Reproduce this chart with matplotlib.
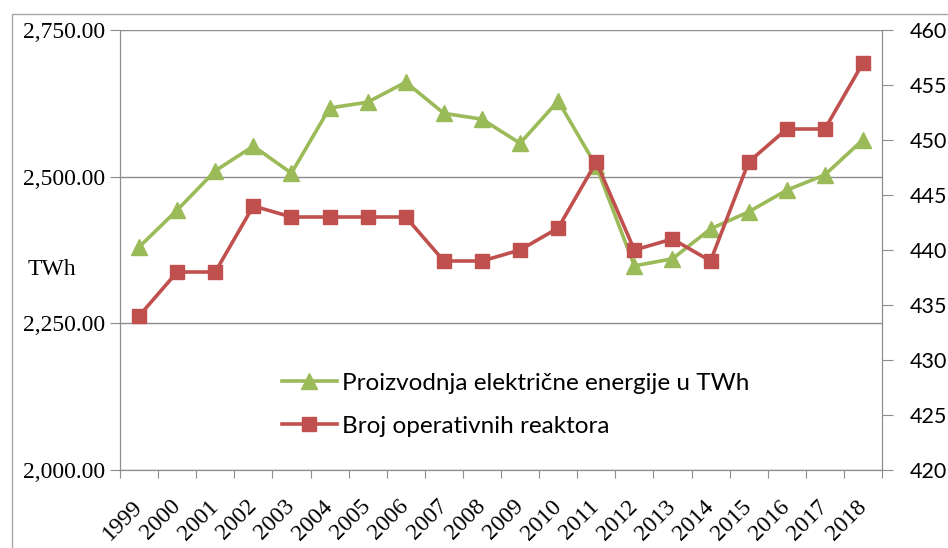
import matplotlib.pyplot as plt
from matplotlib.patches import Rectangle
from matplotlib.ticker import FuncFormatter, MultipleLocator, FixedLocator

# podaci
godine = [str(g) for g in range(1999, 2019)]
proizvodnja_twh = [2380, 2443, 2510, 2552, 2506, 2617, 2627, 2661, 2608, 2598,
                   2557, 2629, 2518, 2348, 2360, 2411, 2440, 2477, 2503, 2563]
broj_reaktora = [434, 438, 438, 444, 443, 443, 443, 443, 439, 439,
                 440, 442, 448, 440, 441, 439, 448, 451, 451, 457]

zelena = '#9BBB59'
crvena = '#C0504D'
siva = '#8c8c8c'

fig = plt.figure(figsize=(9.48, 5.48), dpi=100)
ax = fig.add_axes([120/948, 1 - 470/548, 762/948, 440/548])
ax2 = ax.twinx()

x = list(range(len(godine)))
l1, = ax.plot(x, proizvodnja_twh, color=zelena, lw=2.6, marker='^', ms=11,
              label='Proizvodnja električne energije u TWh')
l2, = ax2.plot(x, broj_reaktora, color=crvena, lw=2.6, marker='s', ms=10,
               label='Broj operativnih reaktora')

ax.set_xlim(-0.5, len(godine) - 0.5)
ax.set_ylim(2000, 2750)
ax2.set_ylim(420, 460)

ax.yaxis.set_major_locator(MultipleLocator(250))
ax.yaxis.set_major_formatter(FuncFormatter(lambda v, p: f'{v:,.2f}'))
ax2.yaxis.set_major_locator(MultipleLocator(5))

ax.grid(axis='y', color=siva, lw=1)
ax.set_axisbelow(True)

# kategorije izmedju crtica
ax.xaxis.set_major_locator(FixedLocator([i - 0.5 for i in range(len(godine) + 1)]))
ax.xaxis.set_minor_locator(FixedLocator(x))
ax.set_xticklabels([])
ax.set_xticklabels(godine, minor=True, rotation=45, ha='right', va='center',
                   rotation_mode='anchor', family='Liberation Serif', fontsize=17)
ax.tick_params(axis='x', which='minor', length=0, pad=24)
ax.tick_params(axis='x', which='major', length=6, color=siva)
ax.tick_params(axis='y', length=7, color=siva, labelsize=17)
for t in ax.get_yticklabels():
    t.set_family('Liberation Serif')
ax2.tick_params(axis='y', length=8, color=siva, labelsize=15.5, pad=12)
for t in ax2.get_yticklabels():
    t.set_family('Lato')

for a in (ax, ax2):
    a.spines['top'].set_visible(False)
    for s in ('left', 'right', 'bottom'):
        a.spines[s].set_color(siva)

ax.text(-0.09, 0.455, 'TWh', transform=ax.transAxes, ha='center', va='center',
        family='Liberation Serif', fontsize=17)

ax2.legend(handles=[l1, l2], loc='center left', bbox_to_anchor=(0.196, 0.148),
           frameon=False, borderpad=0, handlelength=2.3, handletextpad=0.2,
           labelspacing=0.9, prop={'family': 'Lato', 'size': 17.5})

# okvir grafikona
fig.add_artist(Rectangle((12/948, -0.1), 1.0, 1 - 14/548 + 0.1,
                         transform=fig.transFigure, fill=False, ec='#a6a6a6', lw=1))

fig.savefig('out.png', dpi=100)
